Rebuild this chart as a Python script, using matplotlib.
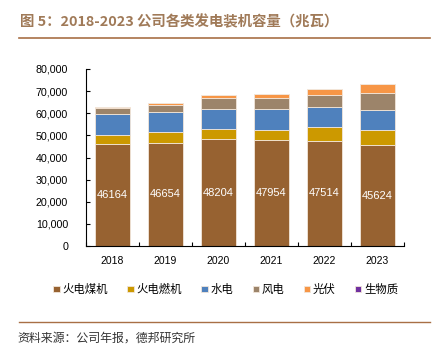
import numpy as np
import matplotlib.pyplot as plt
from matplotlib.ticker import FuncFormatter

plt.rcParams['font.family'] = ['Liberation Sans', 'Noto Sans CJK SC', 'DejaVu Sans']

years = ['2018', '2019', '2020', '2021', '2022', '2023']
coal = [46164, 46654, 48204, 47954, 47514, 45624]
gas = [4200, 4700, 4800, 4600, 6100, 6600]
hydro = [9300, 9100, 8900, 9300, 9200, 9100]
wind = [2600, 3200, 4800, 4800, 5400, 7700]
solar = [700, 1000, 1700, 2200, 2800, 4200]
biomass = [50, 50, 50, 50, 50, 50]

series = [
    ('火电煤机', coal, '#976231'),
    ('火电燃机', gas, '#CC9900'),
    ('水电', hydro, '#4F81BD'),
    ('风电', wind, '#9C846A'),
    ('光伏', solar, '#F79646'),
    ('生物质', biomass, '#7030A0'),
]

fig = plt.figure(figsize=(4.37, 3.5), dpi=100)
ax = fig.add_axes([0.197, 0.297, 0.727, 0.506])

x = np.arange(len(years))
bottom = np.zeros(len(years))
for name, vals, col in series:
    vals = np.array(vals)
    ax.bar(x, vals, width=0.66, bottom=bottom, color=col, label=name,
           edgecolor='#F2E6DA', linewidth=0.6)
    bottom += vals

for i, v in enumerate(coal):
    ax.text(x[i], v / 2, str(v), color='white', ha='center', va='center', fontsize=8)

ax.set_xlim(-0.5, len(years) - 0.5)
ax.set_ylim(0, 80000)
ax.set_yticks(np.arange(0, 80001, 10000))
ax.yaxis.set_major_formatter(FuncFormatter(lambda v, p: '{:,.0f}'.format(v)))
ax.set_xticks(x)
ax.set_xticklabels(years)
ax.set_xticks(np.arange(-0.5, len(years), 1), minor=True)
ax.tick_params(axis='x', which='major', length=0, labelsize=7.5, pad=7)
ax.tick_params(axis='x', which='minor', length=3, direction='in', width=0.8)
ax.tick_params(axis='y', length=3, direction='in', labelsize=7.7, pad=13, width=0.8)
for s in ['top', 'right']:
    ax.spines[s].set_visible(False)
for s in ['left', 'bottom']:
    ax.spines[s].set_linewidth(0.8)

leg = ax.legend(loc='center', bbox_to_anchor=(0.44, -0.245), ncol=6, frameon=False,
                handlelength=0.55, handleheight=0.55, handletextpad=0.25,
                columnspacing=1.7, prop={'family': ['Noto Sans CJK SC'], 'size': 8.2})

fig.text(0.046, 0.937, '图 5：2018-2023 公司各类发电装机容量（兆瓦）', fontsize=10.4,
         fontweight='bold', color='#A07A58', va='center',
         family=['Noto Sans CJK SC', 'DejaVu Sans'])
fig.add_artist(plt.Line2D([0.043, 0.985], [0.891, 0.891], color='#A86F45', linewidth=1.2))
fig.add_artist(plt.Line2D([0.043, 0.985], [0.079, 0.079], color='#A86F45', linewidth=1.0))
fig.text(0.041, 0.035, '资料来源：公司年报，德邦研究所', fontsize=8.6, color='#333333',
         va='center', family=['Noto Sans CJK SC'])

plt.savefig('out.png', dpi=100)
